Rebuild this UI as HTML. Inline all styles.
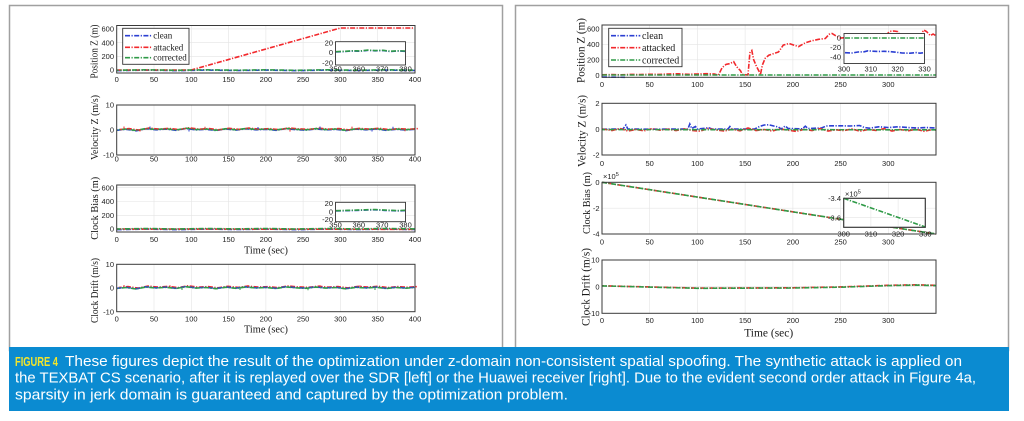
<!DOCTYPE html>
<html><head><meta charset="utf-8"><style>
html,body{margin:0;padding:0;background:#fff;width:1024px;height:421px;overflow:hidden}
svg{display:block}
.af{fill:#fff;stroke:none}
.ao{fill:none;stroke:#3a3a3a;stroke-width:1}
.ai{fill:#fff;stroke:#333;stroke-width:.9}
.g{stroke:#e4e4e4;stroke-width:.6;fill:none}
.tk{font-family:"Liberation Sans",sans-serif;font-size:7.5px;fill:#222}
.tr{text-anchor:end}
.tm{text-anchor:middle}
.lab{font-family:"Liberation Serif",serif;fill:#1a1a1a}
.s{fill:none;stroke-width:1.6;stroke-dasharray:5 1.5 1.2 1.5}
.b{stroke:#2b3fd2}.r{stroke:#f2282c}.gr{stroke:#2f9a47}
.cap{font-family:"Liberation Sans",sans-serif;font-size:15px;fill:#fff}
</style></head><body>
<svg width="1024" height="421" viewBox="0 0 1024 421" xmlns="http://www.w3.org/2000/svg">
<defs>
<path id="jl" d="M116.7,1 L126,0 L136,1.5 L146,-0.5 L156,0.5 L166,-0.2 L176,1 L186,-0.8 L196,0.6 L206,0 L216,1.2 L226,-0.3 L236,0.8 L246,-0.5 L256,0.5 L266,0 L276,1 L286,-0.6 L296,0.3 L306,0.8 L316,-0.4 L326,0.6 L336,0 L346,1.3 L356,-0.2 L366,0.5 L376,-0.3 L386,1 L396,0 L406,0.7 L415,0"/>
<path id="js" d="M116.7,0.3 L146,-0.2 L176,0.3 L206,-0.2 L236,0.2 L266,-0.2 L296,0.3 L326,-0.2 L356,0.2 L386,-0.2 L415,0.2"/>
<path id="jr" d="M602,0 L612,1.5 L620,-0.5 L628,2 L636,0.5 L644,1.8 L652,-0.3 L660,1.2 L668,0.2 L676,1.6 L684,0 L692,1.4 L700,2.2 L708,-0.5 L716,1 L724,2 L732,0.3 L740,1.8 L748,-1 L756,1.5 L764,0.5 L772,2 L780,0 L788,1.2 L796,2.4 L804,0.4 L812,1.5 L820,-0.4 L828,2 L836,0.8 L844,1.6 L852,0 L860,2.2 L868,0.6 L876,1.4 L884,-0.3 L892,2 L900,0.5 L908,1.8 L916,0.2 L924,2.3 L932,0.6 L936,1.2"/>
</defs>

<!-- panel frames -->
<rect x="9.5" y="5.5" width="493" height="345" fill="none" stroke="#a0a0a0" stroke-width="1.5"/>
<rect x="515.5" y="5.5" width="493" height="345" fill="none" stroke="#a0a0a0" stroke-width="1.5"/>

<!-- ================= LEFT PANEL ================= -->
<!-- P1 -->
<rect class="af" x="116.7" y="25.5" width="298.3" height="47.5"/>
<path class="g" d="M154,25.5V73M191.3,25.5V73M228.6,25.5V73M265.9,25.5V73M303.1,25.5V73M340.4,25.5V73M377.7,25.5V73M116.7,70H415M116.7,56.3H415M116.7,42.6H415M116.7,28.9H415"/>
<use href="#js" class="s b" transform="translate(0,70.3)"/>
<path class="s r" d="M116.7,70 L191.3,70 L340.4,28 L415,28"/>
<use href="#js" class="s gr" transform="translate(0,70)" stroke-dashoffset="3"/>
<rect class="ao" x="116.7" y="25.5" width="298.3" height="47.5"/>
<g class="tk tr"><text x="114" y="31.6">600</text><text x="114" y="45.3">400</text><text x="114" y="59">200</text><text x="114" y="72.7">0</text></g>
<g class="tk tm"><text x="116.7" y="82">0</text><text x="154" y="82">50</text><text x="191.3" y="82">100</text><text x="228.6" y="82">150</text><text x="265.9" y="82">200</text><text x="303.1" y="82">250</text><text x="340.4" y="82">300</text><text x="377.7" y="82">350</text><text x="415" y="82">400</text></g>
<rect class="ai" x="122.7" y="28.3" width="66.3" height="36"/>
<path class="s b" d="M125,35.7H151.7"/><path class="s r" d="M125,47.3H151.7"/><path class="s gr" d="M125,57.7H151.7"/>
<g class="lab" font-size="9"><text x="153.3" y="38.7">clean</text><text x="153.3" y="50.3">attacked</text><text x="153.3" y="60.7">corrected</text></g>
<rect class="ai" x="335.5" y="41.7" width="70" height="23.3"/>
<path class="s b" d="M336,52 L345,51.5 L352,51 L360,51.2 L368,50.3 L375,50.8 L383,50.5 L390,51.5 L398,51 L405,51.3"/>
<path class="s gr" d="M336,51.7 L345,51.3 L352,50.8 L360,51 L368,50.1 L375,50.6 L383,50.3 L390,51.2 L398,50.8 L405,51"/>
<g class="tk tr"><text x="333" y="45.4">20</text><text x="333" y="55">0</text><text x="333" y="65.4">-20</text></g>
<g class="tk tm"><text x="335.5" y="71.5">350</text><text x="358.8" y="71.5">360</text><text x="382.2" y="71.5">370</text><text x="405.5" y="71.5">380</text></g>
<text class="lab" font-size="10" text-anchor="middle" textLength="54" lengthAdjust="spacingAndGlyphs" transform="translate(97.5,51.5) rotate(-90)">Position Z (m)</text>

<!-- P2 -->
<rect class="af" x="116.7" y="105" width="298.3" height="50"/>
<path class="g" d="M154,105V155M191.3,105V155M228.6,105V155M265.9,105V155M303.1,105V155M340.4,105V155M377.7,105V155M116.7,130H415"/>
<use href="#jl" class="s b" transform="translate(0,129.3)"/>
<use href="#jl" class="s r" transform="translate(3,128.6)" stroke-dashoffset="2"/>
<use href="#jl" class="s gr" transform="translate(0,129)" stroke-dashoffset="4"/>
<path class="b" stroke-width="1" d="M150,129V126.5M189,129V131.5M258,129V127M320,129V126.5M372,129V131.5M393,129V126.8"/>
<path class="r" stroke-width="1" d="M124,129V126.5M140,129V131.5M205,129V126.8M290,129V131.6M352,129V126.6M405,129V131.2"/>
<rect class="ao" x="116.7" y="105" width="298.3" height="50"/>
<g class="tk tr"><text x="114" y="107.7">10</text><text x="114" y="132.7">0</text><text x="114" y="157.7">-10</text></g>
<g class="tk tm"><text x="116.7" y="161.5">0</text><text x="154" y="161.5">50</text><text x="191.3" y="161.5">100</text><text x="228.6" y="161.5">150</text><text x="265.9" y="161.5">200</text><text x="303.1" y="161.5">250</text><text x="340.4" y="161.5">300</text><text x="377.7" y="161.5">350</text><text x="415" y="161.5">400</text></g>
<text class="lab" font-size="10" text-anchor="middle" textLength="65" lengthAdjust="spacingAndGlyphs" transform="translate(98,127.5) rotate(-90)">Velocity Z (m/s)</text>

<!-- P3 -->
<rect class="af" x="116.7" y="185" width="298.3" height="47"/>
<path class="g" d="M154,185V232M191.3,185V232M228.6,185V232M265.9,185V232M303.1,185V232M340.4,185V232M377.7,185V232M116.7,229H415M116.7,215.3H415M116.7,201.5H415M116.7,187.7H415"/>
<use href="#js" class="s b" transform="translate(0,229.3)"/>
<path class="s r" d="M116.7,229 L415,229.3" stroke-dashoffset="3"/>
<use href="#js" class="s gr" transform="translate(0,228.7)" stroke-dashoffset="1"/>
<rect class="ao" x="116.7" y="185" width="298.3" height="47"/>
<g class="tk tr"><text x="114" y="190.4">600</text><text x="114" y="204.2">400</text><text x="114" y="218">200</text><text x="114" y="231.7">0</text></g>
<g class="tk tm"><text x="116.7" y="242">0</text><text x="154" y="242">50</text><text x="191.3" y="242">100</text><text x="228.6" y="242">150</text><text x="265.9" y="242">200</text><text x="303.1" y="242">250</text><text x="340.4" y="242">300</text><text x="377.7" y="242">350</text><text x="415" y="242">400</text></g>
<rect class="ai" x="335.5" y="202.3" width="70" height="19.4"/>
<path class="s b" d="M336,211 L350,210.6 L365,210.1 L375,209.8 L385,210.4 L398,210.9 L405,210.6"/>
<path class="s gr" d="M336,210.7 L350,210.3 L365,209.8 L375,209.5 L385,210.1 L398,210.6 L405,210.3"/>
<g class="tk tr"><text x="333" y="206">20</text><text x="333" y="214.4">0</text><text x="333" y="222.2">-20</text></g>
<g class="tk tm"><text x="335.5" y="227.5">350</text><text x="358.8" y="227.5">360</text><text x="382.2" y="227.5">370</text><text x="405.5" y="227.5">380</text></g>
<text class="lab" font-size="10" text-anchor="middle" textLength="44" lengthAdjust="spacingAndGlyphs" x="266" y="253.5">Time (sec)</text>
<text class="lab" font-size="10" text-anchor="middle" textLength="63" lengthAdjust="spacingAndGlyphs" transform="translate(98,208.3) rotate(-90)">Clock Bias (m)</text>

<!-- P4 -->
<rect class="af" x="116.7" y="264.3" width="298.3" height="47.4"/>
<path class="g" d="M154,264.3V311.7M191.3,264.3V311.7M228.6,264.3V311.7M265.9,264.3V311.7M303.1,264.3V311.7M340.4,264.3V311.7M377.7,264.3V311.7M116.7,288H415"/>
<use href="#jl" class="s r" transform="translate(2,286.6)" stroke-dashoffset="2"/>
<use href="#jl" class="s b" transform="translate(0,287.3)"/>
<use href="#jl" class="s gr" transform="translate(0,287.5)" stroke-dashoffset="4"/>
<path class="r" stroke-width="1" d="M124,287V285M170,287V285.2M248,287V285.3M320,287V285.2M360,287V285.4"/>
<path class="gr" stroke-width="1" d="M182,287.5V290M240,287.5V290M308,287.5V290.2M375,287.5V290"/>
<rect class="ao" x="116.7" y="264.3" width="298.3" height="47.4"/>
<g class="tk tr"><text x="114" y="267">10</text><text x="114" y="290.7">0</text><text x="114" y="314.4">-10</text></g>
<g class="tk tm"><text x="116.7" y="321.3">0</text><text x="154" y="321.3">50</text><text x="191.3" y="321.3">100</text><text x="228.6" y="321.3">150</text><text x="265.9" y="321.3">200</text><text x="303.1" y="321.3">250</text><text x="340.4" y="321.3">300</text><text x="377.7" y="321.3">350</text><text x="415" y="321.3">400</text></g>
<text class="lab" font-size="10" text-anchor="middle" textLength="44" lengthAdjust="spacingAndGlyphs" x="266" y="332.5">Time (sec)</text>
<text class="lab" font-size="10" text-anchor="middle" textLength="65" lengthAdjust="spacingAndGlyphs" transform="translate(98,290.5) rotate(-90)">Clock Drift (m/s)</text>

<!-- ================= RIGHT PANEL ================= -->
<!-- RP1 -->
<rect class="af" x="602" y="25" width="334" height="52.3"/>
<path class="g" d="M649.7,25V77.3M697.4,25V77.3M745.1,25V77.3M792.9,25V77.3M840.6,25V77.3M888.3,25V77.3M602,75.2H936M602,59.8H936M602,44.3H936M602,28.9H936"/>
<path class="s b" d="M602,77 L615,77.2 L625,77.3"/>
<path class="s r" d="M602,74.8 L611.5,74.6 L621.1,74.8 L630.6,74.4 L640.2,74.6 L649.7,74.3 L659.3,74.4 L668.8,74 L678.3,73.8 L687.9,74.3 L697.4,74 L707,73.7 L714.6,74 L718.4,75.2 L722.2,67.5 L726.1,64.4 L729.9,63.6 L733.7,61.7 L736.6,66.7 L740.4,70.6 L742.3,74.4 L745.1,74.8 L748,74.8 L749.9,52.8 L751.8,50.5 L753.7,59.8 L756.6,66.7 L759.5,72.1 L760.4,74.8 L762.3,65.2 L765.2,58.2 L769,55.1 L773.8,53.6 L778.5,52 L783.3,45.1 L789,43.5 L793.8,45.1 L798.6,46.6 L805.3,42.8 L811.9,40.8 L818.6,39.3 L825.3,38.5 L829.1,34.3 L832,33.5 L835.8,35.8 L840.6,38.1 L845.3,37.6 L859.7,36.5 L878.7,36 L886,35.5 L889,32 L891.2,31.2 L894,31 L897.8,31.6 L900,35.5 L907.4,36.5 L916.9,36 L921,35 L923.6,30 L926.5,31.5 L930.3,35.6 L933.1,34 L936,35.8"/>
<path class="s gr" d="M602,75 L936,75"/>
<rect class="ao" x="602" y="25" width="334" height="52.3"/>
<g class="tk tr"><text x="599.5" y="31.6">600</text><text x="599.5" y="47">400</text><text x="599.5" y="62.5">200</text><text x="599.5" y="77.9">0</text></g>
<g class="tk tm"><text x="602" y="87">0</text><text x="649.7" y="87">50</text><text x="697.4" y="87">100</text><text x="745.1" y="87">150</text><text x="792.9" y="87">200</text><text x="840.6" y="87">250</text><text x="888.3" y="87">300</text></g>
<rect class="ai" x="608.7" y="28.3" width="73.3" height="38.4"/>
<path class="s b" d="M611,35.7H640.3"/><path class="s r" d="M611,47.7H640.3"/><path class="s gr" d="M611,60H640.3"/>
<g class="lab" font-size="10"><text x="642" y="39.1">clean</text><text x="642" y="51.1">attacked</text><text x="642" y="63.4">corrected</text></g>
<rect class="ai" x="844" y="33.5" width="80.5" height="30"/>
<path class="s gr" d="M845,38 L924,38"/>
<path class="s b" d="M845,52.7 L852,53 L858,52 L864,51.8 L868,50.8 L872,51.2 L878,51.5 L884,51.3 L890,51.6 L896,52.2 L902,53 L910,53.2 L916,52.6 L920,53.2 L923,52.8"/>
<g class="tk tr"><text x="841" y="40.7">0</text><text x="841" y="50.2">-20</text><text x="841" y="59.7">-40</text></g>
<g class="tk tm"><text x="844" y="71.5">300</text><text x="870.8" y="71.5">310</text><text x="897.6" y="71.5">320</text><text x="924.5" y="71.5">330</text></g>
<text class="lab" font-size="11.5" text-anchor="middle" textLength="65" lengthAdjust="spacingAndGlyphs" transform="translate(584.5,50.5) rotate(-90)">Position Z (m)</text>

<!-- RP2 -->
<rect class="af" x="602" y="103.3" width="334" height="51.7"/>
<path class="g" d="M649.7,103.3V155M697.4,103.3V155M745.1,103.3V155M792.9,103.3V155M840.6,103.3V155M888.3,103.3V155M602,129.2H936"/>
<path class="s b" d="M602,129.2 L623,129 L625.9,125 L627.8,129 L649.7,129.2 L687.9,129 L689.8,124 L691.7,128.5 L695.5,126.5 L697.4,129 L708.9,127.8 L712,129 L728,129 L729.9,126.5 L732,129 L754.7,129 L759.5,126.5 L764.2,125 L769,124.8 L773.8,126 L778.5,127 L781,129 L785.2,126 L788.1,128.5 L802.4,128.8 L805.3,126.2 L808,128.5 L821.5,128 L826.3,126 L831,125.8 L840.6,125.8 L850.1,126 L859.7,125.5 L864.4,127.5 L869.2,128.2 L878.7,126.8 L888.3,127.5 L897.8,126.8 L907.4,127.5 L916.9,128 L926.5,127.5 L936,128"/>
<use href="#jr" class="s r" transform="translate(0,129)"/>
<path class="s gr" d="M602,129.6 L936,129.8" stroke-dashoffset="2"/>
<rect class="ao" x="602" y="103.3" width="334" height="51.7"/>
<g class="tk tr"><text x="599.5" y="106">2</text><text x="599.5" y="131.9">0</text><text x="599.5" y="157.7">-2</text></g>
<g class="tk tm"><text x="602" y="166">0</text><text x="649.7" y="166">50</text><text x="697.4" y="166">100</text><text x="745.1" y="166">150</text><text x="792.9" y="166">200</text><text x="840.6" y="166">250</text><text x="888.3" y="166">300</text></g>
<text class="lab" font-size="11.5" text-anchor="middle" textLength="72" lengthAdjust="spacingAndGlyphs" transform="translate(585.5,131) rotate(-90)">Velocity Z (m/s)</text>

<!-- RP3 -->
<rect class="af" x="602" y="182.3" width="334" height="51.7"/>
<path class="g" d="M649.7,182.3V234M697.4,182.3V234M745.1,182.3V234M792.9,182.3V234M840.6,182.3V234M888.3,182.3V234M602,208.2H936"/>
<path class="s r" d="M602,182.3 L936,234" stroke-dashoffset="3"/>
<path class="s gr" d="M602,182.3 L936,234"/>
<rect class="ao" x="602" y="182.3" width="334" height="51.7"/>
<g class="tk tr"><text x="599.5" y="185">0</text><text x="599.5" y="210.9">-2</text><text x="599.5" y="236.7">-4</text></g>
<text class="tk" x="603" y="179">×10<tspan font-size="5.5" dy="-3">5</tspan></text>
<g class="tk tm"><text x="602" y="244.5">0</text><text x="649.7" y="244.5">50</text><text x="697.4" y="244.5">100</text><text x="745.1" y="244.5">150</text><text x="792.9" y="244.5">200</text><text x="840.6" y="244.5">250</text><text x="888.3" y="244.5">300</text></g>
<rect class="ai" x="843.7" y="198.3" width="81.6" height="29"/>
<path class="g" d="M870.9,198.3V227.3M898.1,198.3V227.3M843.7,217.7H925.3"/>
<path class="s gr" d="M843.7,198.3 L925.3,227"/>
<rect class="ao" x="843.7" y="198.3" width="81.6" height="29"/>
<g class="tk tr"><text x="841" y="201">-3.4</text><text x="841" y="220.4">-3.6</text></g>
<text class="tk" x="845" y="196.5">×10<tspan font-size="5.5" dy="-3">5</tspan></text>
<g class="tk tm"><text x="843.7" y="236.7">300</text><text x="870.9" y="236.7">310</text><text x="898.1" y="236.7">320</text><text x="925.3" y="236.7">330</text></g>
<text class="lab" font-size="11" text-anchor="middle" textLength="62" lengthAdjust="spacingAndGlyphs" transform="translate(590,203) rotate(-90)">Clock Bias (m)</text>

<!-- RP4 -->
<rect class="af" x="602" y="260" width="334" height="53.3"/>
<path class="g" d="M649.7,260V313.3M697.4,260V313.3M745.1,260V313.3M792.9,260V313.3M840.6,260V313.3M888.3,260V313.3M602,286.7H936"/>
<path class="s r" d="M602,285.8 L697.4,288.1 L792.9,287.8 L840.6,286.9 L888.3,285.3 L917,284.8 L936,285.3" stroke-dashoffset="3"/>
<path class="s gr" d="M602,285.9 L697.4,288.3 L792.9,288 L840.6,287.2 L888.3,285.6 L917,285.1 L936,285.6"/>
<rect class="ao" x="602" y="260" width="334" height="53.3"/>
<g class="tk tr"><text x="599.5" y="262.7">10</text><text x="599.5" y="289.4">0</text><text x="599.5" y="316">-10</text></g>
<g class="tk tm"><text x="602" y="323">0</text><text x="649.7" y="323">50</text><text x="697.4" y="323">100</text><text x="745.1" y="323">150</text><text x="792.9" y="323">200</text><text x="840.6" y="323">250</text><text x="888.3" y="323">300</text></g>
<text class="lab" font-size="11.5" text-anchor="middle" textLength="49" lengthAdjust="spacingAndGlyphs" x="768.7" y="336.5">Time (sec)</text>
<text class="lab" font-size="11.5" text-anchor="middle" textLength="78" lengthAdjust="spacingAndGlyphs" transform="translate(589.5,287) rotate(-90)">Clock Drift (m/s)</text>

<!-- ================= CAPTION ================= -->
<rect x="9" y="347" width="1000" height="64" fill="#0b8bd1"/>
<text x="15" y="366" font-family="'Liberation Sans Narrow','Liberation Sans',sans-serif" font-weight="bold" font-size="12.5" fill="#f3e52a" textLength="43" lengthAdjust="spacingAndGlyphs">FIGURE 4</text>
<text class="cap" x="65" y="366" textLength="897" lengthAdjust="spacingAndGlyphs">These figures depict the result of the optimization under z-domain non-consistent spatial spoofing. The synthetic attack is applied on</text>
<text class="cap" x="15" y="382.7" textLength="961" lengthAdjust="spacingAndGlyphs">the TEXBAT CS scenario, after it is replayed over the SDR [left] or the Huawei receiver [right]. Due to the evident second order attack in Figure 4a,</text>
<text class="cap" x="15" y="399.3" textLength="553" lengthAdjust="spacingAndGlyphs">sparsity in jerk domain is guaranteed and captured by the optimization problem.</text>
</svg>
</body></html>
